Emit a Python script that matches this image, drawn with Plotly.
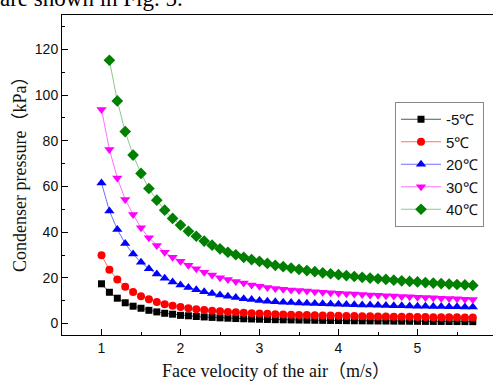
import plotly.graph_objects as go

# Face velocity (m/s)
velocity = [round(1.0 + 0.1 * i, 1) for i in range(48)]  # 1.0 ... 5.7
velocity_40 = velocity[1:]  # 1.1 ... 5.7

p_m5 = [17.4, 13.7, 11.1, 9.1, 7.6, 6.7, 5.8, 5.1, 4.5, 4.1, 3.6, 3.4, 3.1,
        2.9, 2.7, 2.5, 2.35, 2.2, 2.1, 2.0, 1.9, 1.8, 1.7,
        1.65, 1.6, 1.55, 1.5, 1.45, 1.4, 1.36, 1.32, 1.28, 1.24, 1.2, 1.17,
        1.14, 1.11, 1.08, 1.05, 1.02, 0.99, 0.96, 0.94, 0.92, 0.9, 0.88, 0.86, 0.84]
p_5 = [29.9, 23.6, 19.3, 16.1, 13.8, 12.0, 10.6, 9.4, 8.5, 7.8, 7.2, 6.7, 6.3,
       5.9, 5.6, 5.35, 5.1, 4.9, 4.7, 4.55, 4.4, 4.25, 4.1,
       4.0, 3.9, 3.8, 3.72, 3.64, 3.56, 3.49, 3.42, 3.36, 3.3, 3.24, 3.18,
       3.13, 3.08, 3.03, 2.98, 2.94, 2.9, 2.86, 2.82, 2.78, 2.75, 2.72, 2.69, 2.66]
p_20 = [61.5, 49.3, 41.2, 35.0, 30.4, 26.8, 24.0, 21.7, 19.8, 18.2, 16.9, 15.8, 14.8,
        13.9, 13.2, 12.5, 11.9, 11.4, 10.9, 10.5, 10.1, 9.8, 9.5,
        9.35, 9.2, 9.05, 8.92, 8.8, 8.68, 8.57, 8.46, 8.36, 8.26, 8.17, 8.08,
        8.0, 7.92, 7.84, 7.77, 7.7, 7.63, 7.57, 7.51, 7.45, 7.39, 7.33, 7.28, 7.23]
p_30 = [93.7, 76.2, 63.7, 54.3, 47.7, 41.9, 37.5, 34.2, 31.2, 29.0, 27.3, 25.5, 24.0,
        22.5, 21.2, 20.1, 19.3, 18.4, 17.7, 16.9, 16.3, 15.8, 15.3,
        15.0, 14.7, 14.45, 14.2, 13.95, 13.72, 13.5, 13.3, 13.1, 12.9, 12.72, 12.55,
        12.38, 12.2, 12.03, 11.86, 11.7, 11.55, 11.4, 11.25, 11.1, 10.96, 10.82, 10.68, 10.55]
p_40 = [115.2, 97.4, 84.0, 73.7, 65.7, 59.1, 54.0, 49.6, 46.0, 43.1, 40.4, 38.2,
        36.1, 34.3, 32.7, 31.2, 30.1, 29.0, 28.0, 27.2, 26.3, 25.5,
        24.9, 24.3, 23.7, 23.2, 22.7, 22.2, 21.8, 21.4, 21.0, 20.6, 20.25, 19.9,
        19.6, 19.3, 19.0, 18.7, 18.45, 18.2, 17.95, 17.7, 17.5, 17.3, 17.1, 16.9, 16.7]

series_names = ["-5℃", "5℃", "20℃", "30℃", "40℃"]
series_x = [velocity, velocity, velocity, velocity, velocity_40]
series_y = [p_m5, p_5, p_20, p_30, p_40]
marker_colors = ["#000000", "#ff0000", "#0000ff", "#ff00ff", "#008000"]
line_colors = ["#555555", "#ff7070", "#6f6fff", "#ff70ff", "#8cc88c"]
symbols = ["square", "circle", "triangle-up", "triangle-down", "diamond"]
sizes = [7, 8, 9, 9, 9]

fig = go.Figure()
for name, xs, ys, mc, lc, sym, sz in zip(series_names, series_x, series_y,
                                          marker_colors, line_colors, symbols, sizes):
    fig.add_trace(go.Scatter(
        x=xs, y=ys, name=name, mode="lines+markers",
        line=dict(color=lc, width=1),
        marker=dict(color=mc, symbol=sym, size=sz, line=dict(width=0)),
    ))

L, T, B = 62, 15, 46
W, H = 493, 381
pw, ph = W - L, H - T - B

tick_font = dict(family="Liberation Sans, Arial, sans-serif", size=14, color="#111111")
title_font = dict(family="Liberation Serif, Times New Roman, Noto Sans CJK SC, serif", size=18, color="#111111")

fig.update_layout(
    width=W, height=H,
    margin=dict(l=L, r=0, t=T, b=B, pad=0),
    paper_bgcolor="white", plot_bgcolor="white",
    showlegend=True,
    legend=dict(
        x=(395 - L) / pw, y=1 - (102 - T) / ph, xanchor="left", yanchor="top",
        bordercolor="#888888", borderwidth=1, bgcolor="white",
        font=dict(family="Liberation Sans, Arial, sans-serif", size=15, color="#111111"),
        tracegroupgap=0, itemwidth=40,
    ),
    xaxis=dict(
        range=[0.5, 0.5 + pw / 79.0],
        tickmode="array", tickvals=[1, 2, 3, 4, 5], ticktext=["1", "2", "3", "4", "5"],
        ticks="inside", ticklen=6, tickwidth=1, tickcolor="black",
        minor=dict(tickvals=[1.5, 2.5, 3.5, 4.5, 5.5], ticks="inside", ticklen=3,
                   tickcolor="black", showgrid=False),
        showline=True, linecolor="black", linewidth=1, mirror=True,
        showgrid=False, zeroline=False, tickfont=tick_font,
    ),
    yaxis=dict(
        range=[-5, 135],
        tickmode="array", tickvals=[0, 20, 40, 60, 80, 100, 120],
        ticks="inside", ticklen=6, tickwidth=1, tickcolor="black",
        minor=dict(tickvals=[10, 30, 50, 70, 90, 110, 130], ticks="inside", ticklen=3,
                   tickcolor="black", showgrid=False),
        showline=True, linecolor="black", linewidth=1, mirror=False,
        showgrid=False, zeroline=False, tickfont=tick_font,
    ),
    annotations=[
        dict(text="Face velocity of the air（m/s）", xref="paper", yref="paper",
             x=(276 - L) / pw, y=-(371 - (T + ph)) / ph, xanchor="center", yanchor="middle",
             showarrow=False, font=title_font),
        dict(text="Condenser pressure（kPa）", xref="paper", yref="paper",
             x=(20 - L) / pw, y=1 - (170 - T) / ph, xanchor="center", yanchor="middle",
             textangle=-90, showarrow=False, font=title_font),
        dict(text="are shown in Fig. 5.", xref="paper", yref="paper",
             x=(-2 - L) / pw, y=1 + (T - 13) / ph, xanchor="left", yanchor="bottom",
             showarrow=False,
             font=dict(family="Liberation Serif, Times New Roman, serif", size=23, color="#000000")),
    ],
)

fig.write_html("out.html", config={"displayModeBar": False},
               post_script="document.body.style.margin='0';document.body.style.overflow='hidden';")
